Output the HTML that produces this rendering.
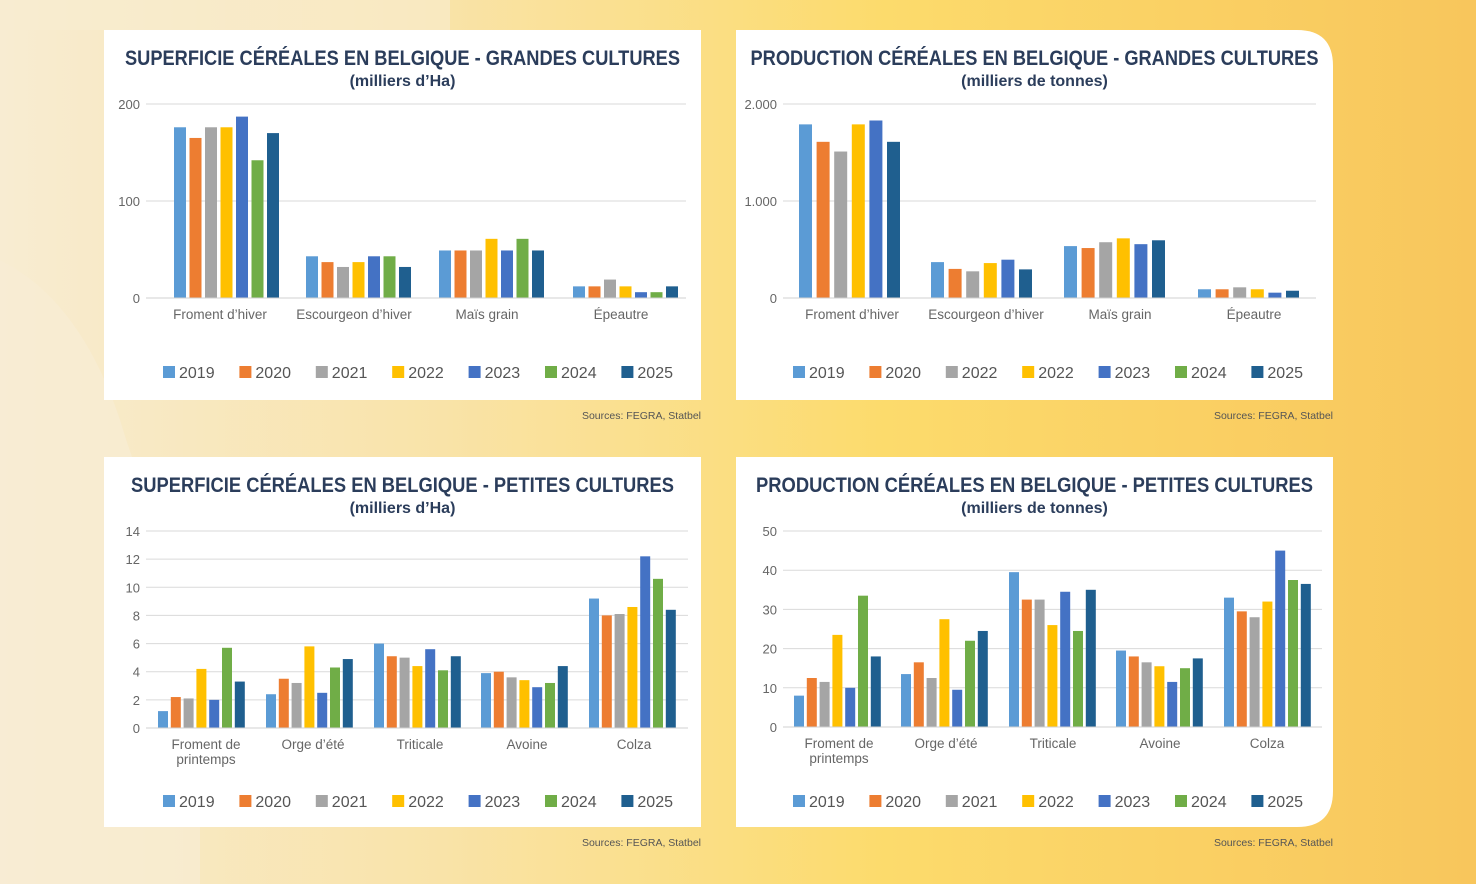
<!DOCTYPE html>
<html><head><meta charset="utf-8"><style>
html,body{margin:0;padding:0}
body{width:1476px;height:884px;overflow:hidden}
svg text{font-family:"Liberation Sans Narrow","Liberation Sans",sans-serif}
</style></head><body>
<svg id="s" width="1476" height="884" viewBox="0 0 1476 884" xmlns="http://www.w3.org/2000/svg">
<defs>
<linearGradient id="bg" x1="0" y1="0" x2="1" y2="0">
<stop offset="0" stop-color="#f8ecd2"/>
<stop offset="0.3" stop-color="#f9e3a8"/>
<stop offset="0.6" stop-color="#fcdb6c"/>
<stop offset="1" stop-color="#f8c65c"/>
</linearGradient>
</defs>
<rect width="1476" height="884" fill="url(#bg)"/>
<path d="M0 0 L450 0 L450 30 L0 30 Z" fill="#f9ecd0" opacity="0.6"/>
<path d="M0 260 Q80 300 120 420 Q150 520 200 600 L200 884 L0 884 Z" fill="#f8ecd4" opacity="0.7"/>
<g id="g"></g>
</svg>
<script>
var C=["#5b9bd5","#ed7d31","#a5a5a5","#ffc000","#4472c4","#70ad47","#1f5f8f"];
var g=document.getElementById('g'),h='';
function T(x,y,t,sz,fill,anchor,weight,len){h+='<text x="'+x+'" y="'+y+'" font-size="'+sz+'" fill="'+fill+'" text-anchor="'+(anchor||'start')+'"'+(weight?' font-weight="bold"':'')+(len?' textLength="'+len+'" lengthAdjust="spacingAndGlyphs"':'')+'>'+t+'</text>';}
function R(x,y,w,hh,f){h+='<rect x="'+x+'" y="'+y+'" width="'+w+'" height="'+hh+'" fill="'+f+'"/>';}
function panel(o){
 // box
 var x0=o.bx,y0=o.by,w=597,H=370;
 if(o.round=='tr') h+='<path d="M'+x0+' '+y0+' H'+(x0+w-36)+' Q'+(x0+w)+' '+y0+' '+(x0+w)+' '+(y0+36)+' V'+(y0+H)+' H'+x0+' Z" fill="#fff"/>';
 else if(o.round=='br') h+='<path d="M'+x0+' '+y0+' H'+(x0+w)+' V'+(y0+H-36)+' Q'+(x0+w)+' '+(y0+H)+' '+(x0+w-36)+' '+(y0+H)+' H'+x0+' Z" fill="#fff"/>';
 else R(x0,y0,w,H,'#fff');
 T(x0+w/2,y0+35,o.title,21,'#2b3d5b','middle',1,o.tl);
 T(x0+w/2,y0+56,o.sub,16,'#2b3d5b','middle',1);
 // grid
 for(var i=0;i<o.ticks.length;i++){var v=o.ticks[i],y=o.y0-(v/o.max)*(o.y0-o.ytop);
  h+='<line x1="'+o.gx1+'" x2="'+o.gx2+'" y1="'+y+'" y2="'+y+'" stroke="#dadada" stroke-width="1"/>';
  T(o.gx1-6,y+5,o.tlab[i],13,'#666','end');}
 for(var k=0;k<o.data.length;k++){var d=o.data[k];
  for(var j=0;j<d.length;j++){ if(d[j]==null)continue; var bh=d[j]/o.max*(o.y0-o.ytop);
   R(o.start[k]+j*o.step,o.y0-bh,o.bw,bh,o.cols[j]);}
  var lab=o.labels[k].split('|');
  for(var l=0;l<lab.length;l++) T(o.centers[k],o.y0+21+l*15,lab[l],13.5,'#666','middle');
 }
 h+='<line x1="'+o.gx1+'" x2="'+o.gx2+'" y1="'+o.y0+'" y2="'+o.y0+'" stroke="#d0d0d0" stroke-width="1"/>';
 for(var m=0;m<7;m++){var lx=o.lx+m*76.4;R(lx,o.ly-11,12,12,C[m]);T(lx+16,o.ly+1,o.leg[m],16,'#555');}
 T(x0+w,y0+H+19,'Sources: FEGRA, Statbel',10.5,'#555','end');
}
var Y=['2019','2020','2021','2022','2023','2024','2025'];
panel({bx:104,by:30,title:'SUPERFICIE CÉRÉALES EN BELGIQUE - GRANDES CULTURES',tl:555,sub:'(milliers d’Ha)',
 y0:298,ytop:104,max:200,ticks:[0,100,200],tlab:['0','100','200'],gx1:146,gx2:686,
 data:[[176,165,176,176,187,142,170],[43,37,32,37,43,43,32],[49,49,49,61,49,61,49],[12,12,19,12,6,6,12]],
 start:[174,306,439,573],step:15.5,bw:12,cols:C,centers:[220,354,487,621],
 labels:["Froment d’hiver","Escourgeon d’hiver","Maïs grain","Épeautre"],lx:163,ly:377,leg:Y});
panel({bx:736,by:30,round:'tr',title:'PRODUCTION CÉRÉALES EN BELGIQUE - GRANDES CULTURES',tl:568,sub:'(milliers de tonnes)',
 y0:298,ytop:104,max:2000,ticks:[0,1000,2000],tlab:['0','1.000','2.000'],gx1:783,gx2:1316,
 data:[[1790,1610,1510,1790,1830,1610],[370,300,275,360,395,295],[535,515,575,615,555,595],[90,90,110,90,55,75]],
 start:[799,931,1064,1198],step:17.6,bw:13,cols:[C[0],C[1],C[2],C[3],C[4],C[6]],centers:[852,986,1120,1254],
 labels:["Froment d’hiver","Escourgeon d’hiver","Maïs grain","Épeautre"],lx:793,ly:377,leg:['2019','2020','2022','2022','2023','2024','2025']});
panel({bx:104,by:457,title:'SUPERFICIE CÉRÉALES EN BELGIQUE - PETITES CULTURES',tl:543,sub:'(milliers d’Ha)',
 y0:728,ytop:531,max:14,ticks:[0,2,4,6,8,10,12,14],tlab:['0','2','4','6','8','10','12','14'],gx1:146,gx2:688,
 data:[[1.2,2.2,2.1,4.2,2.0,5.7,3.3],[2.4,3.5,3.2,5.8,2.5,4.3,4.9],[6.0,5.1,5.0,4.4,5.6,4.1,5.1],[3.9,4.0,3.6,3.4,2.9,3.2,4.4],[9.2,8.0,8.1,8.6,12.2,10.6,8.4]],
 start:[158,266,374,481,589],step:12.8,bw:10,cols:C,centers:[206,313,420,527,634],
 labels:["Froment de|printemps","Orge d’été","Triticale","Avoine","Colza"],lx:163,ly:806,leg:Y});
panel({bx:736,by:457,round:'br',title:'PRODUCTION CÉRÉALES EN BELGIQUE - PETITES CULTURES',tl:557,sub:'(milliers de tonnes)',
 y0:727,ytop:531,max:50,ticks:[0,10,20,30,40,50],tlab:['0','10','20','30','40','50'],gx1:783,gx2:1322,
 data:[[8,12.5,11.5,23.5,10,33.5,18],[13.5,16.5,12.5,27.5,9.5,22,24.5],[39.5,32.5,32.5,26,34.5,24.5,35],[19.5,18,16.5,15.5,11.5,15,17.5],[33,29.5,28,32,45,37.5,36.5]],
 start:[794,901,1009,1116,1224],step:12.8,bw:10,cols:C,centers:[839,946,1053,1160,1267],
 labels:["Froment de|printemps","Orge d’été","Triticale","Avoine","Colza"],lx:793,ly:806,leg:Y});
g.innerHTML=h;
</script>
</body></html>
